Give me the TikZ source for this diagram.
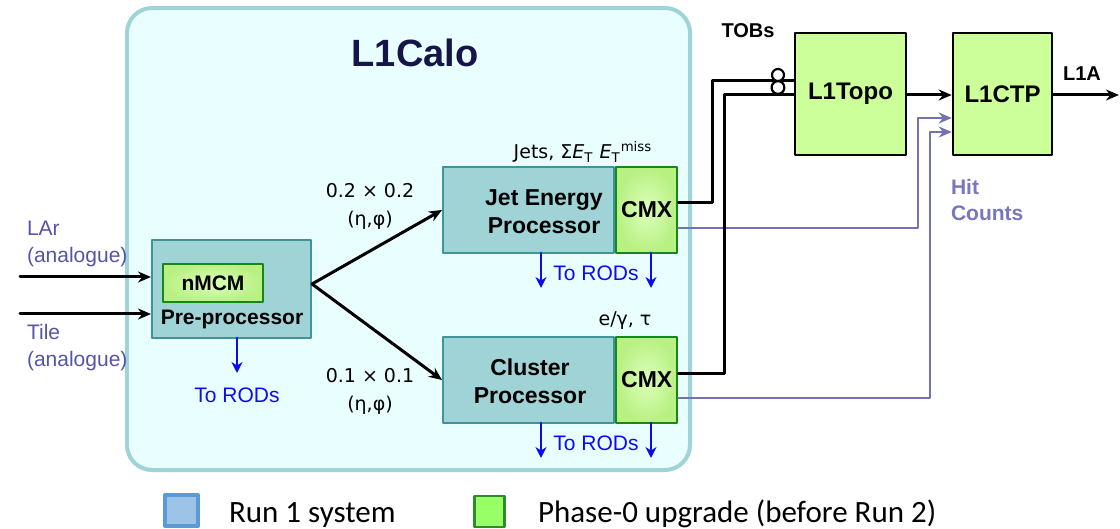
\documentclass[tikz,border=0pt]{standalone}
\usepackage{fontspec}
\setmainfont{Liberation Sans}
\newfontfamily\legendfont{Carlito}
\newfontfamily\physfont{DejaVu Sans}
\usetikzlibrary{positioning, arrows.meta}
\definecolor{calofill}{HTML}{E9FEFE}
\definecolor{caloline}{HTML}{9ED3D8}
\definecolor{procfill}{HTML}{9FD3D6}
\definecolor{procline}{HTML}{3F9499}
\definecolor{upgfill}{HTML}{CCFF99}
\definecolor{upginner}{HTML}{DDFFBB}
\definecolor{upgouter}{HTML}{B8F082}
\definecolor{upgline}{HTML}{16881A}
\definecolor{hitline}{HTML}{7373B3}
\definecolor{hittext}{HTML}{7777BB}
\definecolor{inputtext}{HTML}{5555A5}
\definecolor{titletext}{HTML}{15154A}
\definecolor{rodblue}{HTML}{0C0CF2}
\definecolor{runfill}{HTML}{9DC3E6}
\definecolor{runline}{HTML}{5B9BD5}
\definecolor{phasefill}{HTML}{99FF66}
\definecolor{phaseline}{HTML}{2E8B2E}
\tikzset{
  calo/.style={draw=caloline, fill=calofill, line width=2pt, rounded corners=12.5pt},
  proc/.style={draw=procline, fill=procfill, line width=1pt, minimum width=85.5pt, minimum height=43pt, inner sep=0pt},
  cmx/.style={draw=upgline, line width=1.2pt, inner color=upginner, outer color=upgouter, minimum width=30.5pt, minimum height=43pt, inner sep=0pt, font=\fontsize{11.5}{13}\selectfont\bfseries},
  trig/.style={draw=black, fill=upgfill, line width=1.3pt, minimum height=61pt, inner sep=0pt, font=\fontsize{12}{14}\selectfont\bfseries},
  boxtext/.style={align=center, font=\fontsize{11.5}{14}\selectfont\bfseries},
  phys/.style={align=center, font=\physfont\fontsize{9.5}{14}\selectfont},
  intext/.style={align=left, anchor=west, text=inputtext, font=\fontsize{10.5}{13.5}\selectfont},
  rod/.style={-{Stealth[length=5.5pt, width=5.5pt]}, draw=rodblue, line width=1.4pt},
  rodtext/.style={text=rodblue, font=\fontsize{10.5}{12}\selectfont},
  tob/.style={line width=1.5pt},
  hit/.style={->, draw=hitline, line width=1.3pt},
}
\begin{document}
\begin{tikzpicture}[x=0.5pt, y=-0.5pt, line join=round, line cap=round, >={Stealth[length=6.5pt, width=5.5pt]}]
\def\rodlen{35}
\useasboundingbox (0,0) rectangle (1120,529);
% L1Calo
\draw[calo] (127,8) rectangle (690,470);
\node[text=titletext, font=\fontsize{19}{22}\selectfont\bfseries] (calo) at (415,53) {L1Calo};
% pre-processor
\node[proc, minimum width=79.5pt, minimum height=49pt] (pre) at (231.5,289) {};
\node[draw=upgline, line width=1.2pt, inner color=upginner, outer color=upgouter, minimum width=50pt, minimum height=19pt, inner sep=0pt, font=\fontsize{10.5}{12}\selectfont\bfseries] (nmcm) at (213,283) {nMCM};
\node[font=\fontsize{10.5}{12}\selectfont\bfseries] (pretxt) at (232,319) {Pre-processor};
% processors and CMX
\node[proc] (jep) at (528.5,210) {};
\node[cmx, right=0pt of jep] (jcmx) {CMX};
\node[boxtext] (jeptxt) at (544,212) {Jet Energy\\Processor};
\node[proc] (cp) at (528.5,380) {};
\node[cmx, right=0pt of cp] (ccmx) {CMX};
\node[boxtext] (cptxt) at (530,381) {Cluster\\Processor};
\node[phys] (jetlbl) at (583,152) {Jets, Σ\textit{E}\textsubscript{T} \textit{E}\textsubscript{T}\textsuperscript{miss}};
\node[phys] (emlbl) at (625,321) {e/γ, τ};
% granularity
\node[phys] (jgran) at (370,206) {0.2 × 0.2\\(η,φ)};
\node[phys] (cgran) at (370,391) {0.1 × 0.1\\(η,φ)};
% inputs
\node[intext] (lartxt) at (20,243.5) {LAr\\(analogue)};
\node[intext] (tiletxt) at (20,347.5) {Tile\\(analogue)};
\coordinate (lar) at (20,277);
\coordinate (tile) at (20,314);
\draw[->, tob] (lar) -- (lar -| pre.west);
\draw[->, tob] (tile) -- (tile -| pre.west);
\coordinate (split) at (312,284);
\draw[->, tob] (split) -- (jep.west);
\draw[->, tob] (split) -- (cp.west);
% readout
\coordinate (prerod) at (237,338);
\draw[rod] (prerod) -- ++(0,\rodlen);
\node[rodtext] (prerodtxt) at (237,395) {To RODs};
\foreach \proc/\y in {jep/253, cp/423} {
  \draw[rod] (541,\y) -- ++(0,\rodlen);
  \draw[rod] (651,\y) -- ++(0,\rodlen);
  \node[rodtext] (\proc rodtxt) at (596,\y+20) {To RODs};
}
% global trigger
\node[trig, minimum width=55.5pt] (l1topo) at (850.5,94) {L1Topo};
\node[trig, minimum width=49.5pt] (l1ctp) at (1002.5,94) {L1CTP};
\node[font=\fontsize{10}{12}\selectfont\bfseries] (tobtxt) at (748,31) {TOBs};
\node[font=\fontsize{10}{12}\selectfont\bfseries] (l1atxt) at (1082,74) {L1A};
\node[align=left, anchor=west, text=hittext, font=\fontsize{10.5}{13}\selectfont\bfseries] (hittxt) at (944,200) {Hit\\Counts};
\draw[hit] (jcmx.east |- 0,228) -| (918,118) -- (l1ctp.west |- 0,118);
\draw[hit] (ccmx.east |- 0,398) -| (930,132) -- (l1ctp.west |- 0,132);
\draw[tob] (jcmx.east |- 0,203) -| (712,81) -- (l1topo.west |- 0,81);
\draw[tob] (ccmx.east |- 0,374) -| (724,95) -- (l1topo.west |- 0,95);
\foreach \y/\r in {75/3pt, 87.5/3.2pt} \draw[line width=1.1pt, fill=white] (778,\y) circle (\r);
\draw[->, tob] (l1topo.east |- 0,95) -- (l1ctp.west |- 0,95);
\coordinate (l1a) at (1119,95);
\draw[->, tob] (l1ctp.east |- l1a) -- (l1a);
% legend
\node[draw=runline, fill=runfill, line width=2pt, minimum width=16.5pt, minimum height=15.5pt, inner sep=0pt] (runkey) at (181.5,510.5) {};
\node[anchor=base west, font=\legendfont\fontsize{15.5}{18}\selectfont] (runtxt) at (222,523) {Run 1 system};
\node[draw=phaseline, fill=phasefill, line width=1.2pt, minimum width=15pt, minimum height=15.5pt, inner sep=0pt] (phasekey) at (489.5,511.5) {};
\node[anchor=base west, font=\legendfont\fontsize{15.5}{18}\selectfont] (phasetxt) at (531,523) {Phase-0 upgrade (before Run 2)};
\end{tikzpicture}
\end{document}
